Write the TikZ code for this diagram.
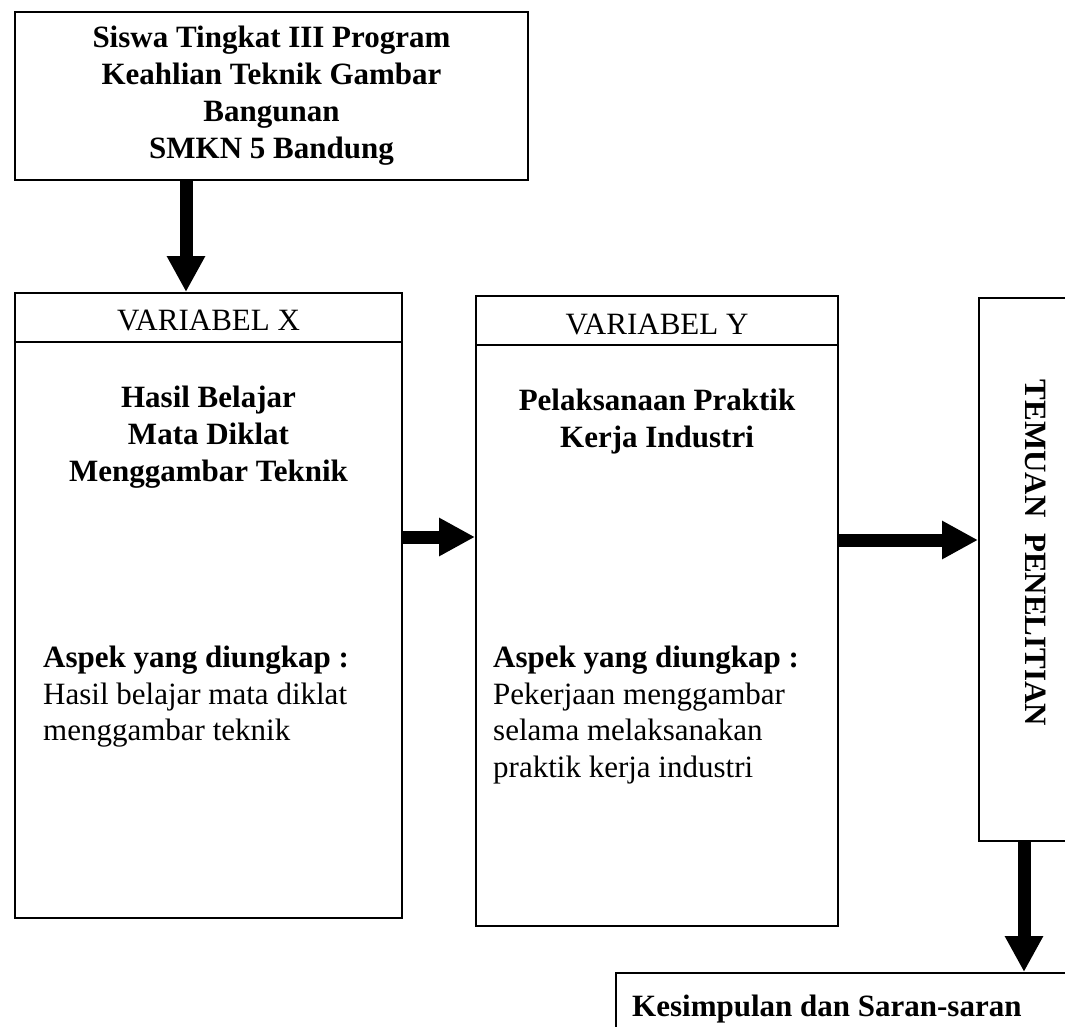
\documentclass[tikz,border=0pt]{standalone}
\usepackage{fontspec}
\setmainfont{Liberation Serif}
\usepackage{tikz}
\usetikzlibrary{calc}
\usetikzlibrary{arrows.meta}
\tikzstyle{kotak} = [draw, line width=2pt, inner sep=0pt]
\tikzstyle{teks} = [inner sep=0pt, font=\fontsize{31}{36.5}\selectfont]
\tikzstyle{judul} = [inner sep=0pt, align=center,
   font=\fontsize{31}{37}\selectfont\bfseries]
\tikzstyle{panah} = [line width=13pt, -{Triangle[length=36pt,width=36pt]}]

\begin{document}
\begin{tikzpicture}[x=1pt,y=-1pt]
    \useasboundingbox (0,0) rectangle (1065,1027);
    \clip (0,0) rectangle (1065,1027);
    \node[kotak, judul, minimum width=513pt, minimum height=168pt] (siswa) at (271.5,96)
      {Siswa Tingkat III Program\\Keahlian Teknik Gambar\\Bangunan\\SMKN 5 Bandung};
    \node[kotak, minimum width=387pt, minimum height=625pt] (varx) at (208.5,605.5) {};
    \node[kotak, minimum width=362pt, minimum height=630pt] (vary) at (657,611) {};
    \node[kotak, minimum width=121pt, minimum height=543pt] (temuan) at (1039.5,569.5) {};
    \node[kotak, minimum width=484pt, minimum height=87pt] (kesimpulan) at (858,1016.5) {};
    \draw[line width=2pt] (varx.west |- 0,342) -- (varx.east |- 0,342);
    \draw[line width=2pt] (vary.west |- 0,345) -- (vary.east |- 0,345);
    \node[teks, anchor=base] (hx) at (208.5,330) {VARIABEL X};
    \node[teks, anchor=base] (hy) at (657,334) {VARIABEL Y};
    \node[judul, anchor=north] (tx) at (208.5,386) {Hasil Belajar\\Mata Diklat\\Menggambar Teknik};
    \node[teks, align=left, anchor=north west] (ax) at (43,646)
      {\textbf{Aspek yang diungkap :}\\Hasil belajar mata diklat\\menggambar teknik};
    \node[judul, anchor=north] (ty) at (657,389) {Pelaksanaan Praktik\\Kerja Industri};
    \node[teks, align=left, anchor=north west] (ay) at (493,646)
      {\textbf{Aspek yang diungkap :}\\Pekerjaan menggambar\\selama melaksanakan\\praktik kerja industri};
    \node[judul, rotate=-90] (tt) at (1036,553) {TEMUAN\ \ PENELITIAN};
    \node[judul, anchor=base west] (tk) at (632,1016) {Kesimpulan dan Saran-saran};
    \draw[panah] (siswa.south -| 186,0) -- (varx.north -| 186,0);
    \draw[panah] (varx.east |- 0,537) -- (vary.west |- 0,537);
    \draw[panah] (vary.east |- 0,540) -- (temuan.west |- 0,540);
    \draw[panah] (temuan.south -| 1024,0) -- (kesimpulan.north -| 1024,0);
  \end{tikzpicture}
\end{document}
